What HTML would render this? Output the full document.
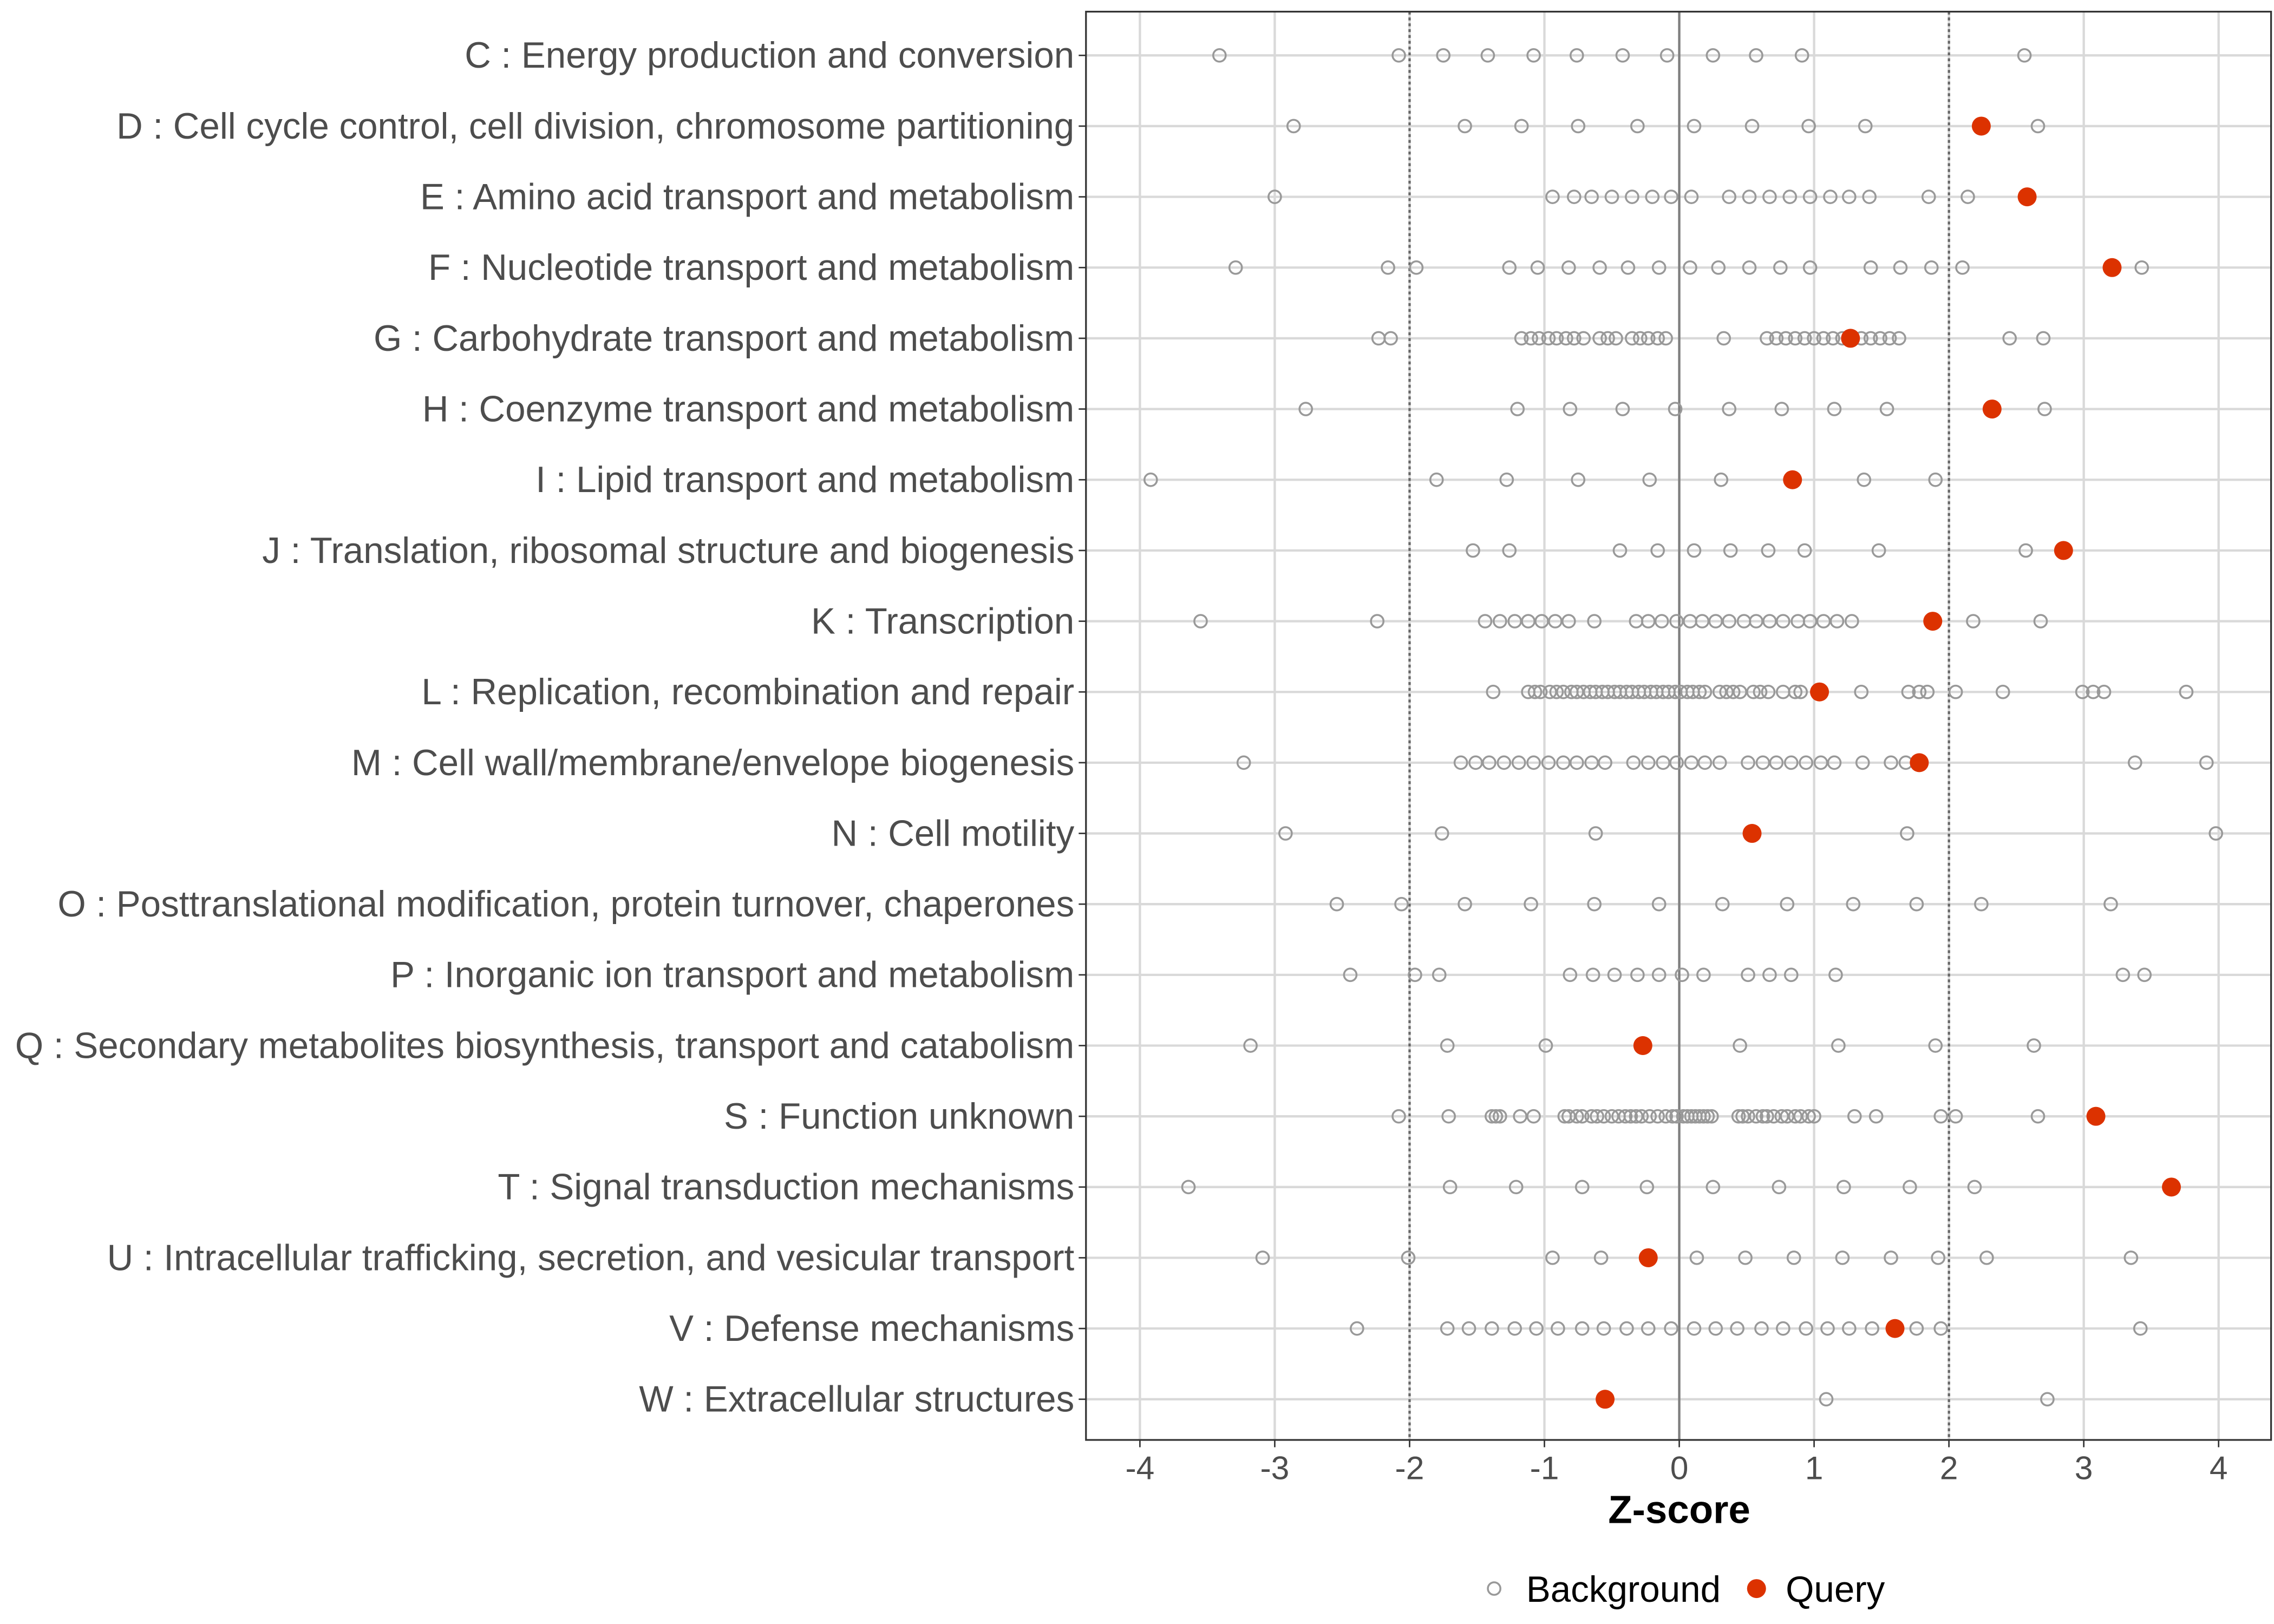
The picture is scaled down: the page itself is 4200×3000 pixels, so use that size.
<!DOCTYPE html>
<html><head><meta charset="utf-8"><style>
html,body{margin:0;padding:0;background:#fff}
svg{display:block}
text{font-family:"Liberation Sans",sans-serif}
</style></head><body>
<svg id="chart" width="4200" height="3000" viewBox="0 0 1560 1114.29" preserveAspectRatio="none" xmlns="http://www.w3.org/2000/svg">
<rect width="1560" height="1114.29" fill="#fff"/>
<g id="grid"></g><g id="pts"></g><g id="labels"></g>
</svg>
<script>
const categories = ["C : Energy production and conversion","D : Cell cycle control, cell division, chromosome partitioning","E : Amino acid transport and metabolism","F : Nucleotide transport and metabolism","G : Carbohydrate transport and metabolism","H : Coenzyme transport and metabolism","I : Lipid transport and metabolism","J : Translation, ribosomal structure and biogenesis","K : Transcription","L : Replication, recombination and repair","M : Cell wall/membrane/envelope biogenesis","N : Cell motility","O : Posttranslational modification, protein turnover, chaperones","P : Inorganic ion transport and metabolism","Q : Secondary metabolites biosynthesis, transport and catabolism","S : Function unknown","T : Signal transduction mechanisms","U : Intracellular trafficking, secretion, and vesicular transport","V : Defense mechanisms","W : Extracellular structures"];
const background = [
[-3.41,-2.08,-1.75,-1.42,-1.08,-0.76,-0.42,-0.09,0.25,0.57,0.91,2.56],
[-2.86,-1.59,-1.17,-0.75,-0.31,0.11,0.54,0.96,1.38,2.66],
[-3.0,-0.94,-0.78,-0.65,-0.5,-0.35,-0.2,-0.06,0.09,0.37,0.52,0.67,0.82,0.97,1.12,1.26,1.41,1.85,2.14],
[-3.29,-2.16,-1.95,-1.26,-1.05,-0.82,-0.59,-0.38,-0.15,0.08,0.29,0.52,0.75,0.97,1.42,1.64,1.87,2.1,3.43],
[-2.23,-2.14,-1.17,-1.1,-1.04,-0.97,-0.91,-0.84,-0.78,-0.71,-0.59,-0.53,-0.47,-0.35,-0.29,-0.23,-0.16,-0.1,0.33,0.65,0.72,0.79,0.86,0.93,1.0,1.07,1.14,1.21,1.28,1.35,1.42,1.49,1.56,1.63,2.45,2.7],
[-2.77,-1.2,-0.81,-0.42,-0.03,0.37,0.76,1.15,1.54,2.71],
[-3.92,-1.8,-1.28,-0.75,-0.22,0.31,1.37,1.9],
[-1.53,-1.26,-0.44,-0.16,0.11,0.38,0.66,0.93,1.48,2.57],
[-3.55,-2.24,-1.44,-1.33,-1.22,-1.12,-1.02,-0.92,-0.82,-0.63,-0.32,-0.23,-0.13,-0.02,0.08,0.17,0.27,0.37,0.48,0.57,0.67,0.77,0.88,0.97,1.07,1.17,1.28,2.18,2.68],
[-1.38,-1.12,-1.07,-1.03,-0.96,-0.91,-0.86,-0.8,-0.76,-0.71,-0.66,-0.62,-0.57,-0.53,-0.48,-0.44,-0.39,-0.35,-0.3,-0.26,-0.21,-0.17,-0.12,-0.08,-0.03,0.01,0.06,0.1,0.15,0.19,0.3,0.35,0.4,0.45,0.55,0.6,0.66,0.77,0.86,0.9,1.35,1.7,1.78,1.84,2.05,2.4,2.99,3.07,3.15,3.76],
[-3.23,-1.62,-1.51,-1.41,-1.3,-1.19,-1.08,-0.97,-0.86,-0.76,-0.65,-0.55,-0.34,-0.23,-0.12,-0.02,0.09,0.19,0.3,0.51,0.62,0.72,0.83,0.94,1.05,1.15,1.36,1.57,1.68,3.38,3.91],
[-2.92,-1.76,-0.62,1.69,3.98],
[-2.54,-2.06,-1.59,-1.1,-0.63,-0.15,0.32,0.8,1.29,1.76,2.24,3.2],
[-2.44,-1.96,-1.78,-0.81,-0.64,-0.48,-0.31,-0.15,0.02,0.18,0.51,0.67,0.83,1.16,3.29,3.45],
[-3.18,-1.72,-0.99,0.45,1.18,1.9,2.63],
[-2.08,-1.71,-1.39,-1.36,-1.33,-1.18,-1.08,-0.85,-0.82,-0.76,-0.72,-0.65,-0.61,-0.56,-0.5,-0.45,-0.4,-0.36,-0.32,-0.28,-0.22,-0.16,-0.1,-0.05,-0.02,0.03,0.06,0.09,0.12,0.15,0.18,0.21,0.24,0.44,0.47,0.51,0.57,0.62,0.65,0.7,0.76,0.8,0.86,0.9,0.96,1.0,1.3,1.46,1.94,2.05,2.66],
[-3.64,-1.7,-1.21,-0.72,-0.24,0.25,0.74,1.22,1.71,2.19],
[-3.09,-2.01,-0.94,-0.58,0.13,0.49,0.85,1.21,1.57,1.92,2.28,3.35],
[-2.39,-1.72,-1.56,-1.39,-1.22,-1.06,-0.9,-0.72,-0.56,-0.39,-0.23,-0.06,0.11,0.27,0.43,0.61,0.77,0.94,1.1,1.26,1.43,1.76,1.94,3.42],
[1.09,2.73]
];
const query = [null,2.24,2.58,3.21,1.27,2.32,0.84,2.85,1.88,1.04,1.78,0.54,null,null,-0.27,3.09,3.65,-0.23,1.6,-0.55];
const xTicks = [-4,-3,-2,-1,0,1,2,3,4];

const NS="http://www.w3.org/2000/svg";
const px0=745, px1=1558, py0=8, py1=988;
const xScale = v => 1152 + v*92.5;
const yScale = i => 38 + i*48.53;
function mk(tag, attrs, parent){const e=document.createElementNS(NS,tag);for(const k in attrs)e.setAttribute(k,attrs[k]);parent.appendChild(e);return e;}
const grid=document.getElementById('grid'), pts=document.getElementById('pts'), lab=document.getElementById('labels');
xTicks.forEach(t=>{
  const l=mk('line',{x1:xScale(t),x2:xScale(t),y1:py0,y2:py1,stroke:'#d9d9d9','stroke-width':1.6},grid);
  
  
  const tk=mk('line',{x1:xScale(t),x2:xScale(t),y1:py1,y2:py1+5,stroke:'#333','stroke-width':1},lab);
  
  
  const tx=mk('text',{x:xScale(t),y:1015,'text-anchor':'middle','font-size':22.5,fill:'#4d4d4d'},lab);
  tx.textContent=t;
  
  
});
categories.forEach((c,i)=>{
  const y=yScale(i);
  const l=mk('line',{x1:px0,x2:px1,y1:y,y2:y,stroke:'#d9d9d9','stroke-width':1.6},grid);
  
  
  const tk=mk('line',{x1:px0-5,x2:px0,y1:y,y2:y,stroke:'#333','stroke-width':1},lab);
  
  
  const tx=mk('text',{x:737,y:y+8.5,'text-anchor':'end','font-size':25,fill:'#4d4d4d'},lab);
  tx.textContent=c;
  
  
});
[-2,2].forEach(t=>{
  const l=mk('line',{x1:xScale(t),x2:xScale(t),y1:py0,y2:py1,stroke:'#666','stroke-width':1.6,'stroke-dasharray':'2,2'},grid);
  
  
});
const zl=mk('line',{x1:xScale(0),x2:xScale(0),y1:py0,y2:py1,stroke:'#7f7f7f','stroke-width':1.6},grid);


const border=mk('rect',{x:px0,y:py0,width:px1-px0,height:py1-py0,fill:'none',stroke:'#333','stroke-width':1.2},grid);


background.forEach((row,i)=>{
  row.forEach(v=>{
    const c=mk('circle',{cx:xScale(v),cy:yScale(i),r:4.3,fill:'none',stroke:'#999','stroke-width':1.3},pts);
    
    
  });
});
query.forEach((v,i)=>{
  if(v===null)return;
  const c=mk('circle',{cx:xScale(v),cy:yScale(i),r:6.5,fill:'#dc3200'},pts);
  
  
});
</script>
<svg style="position:absolute;left:0;top:0" width="4200" height="3000" viewBox="0 0 1560 1114.29" preserveAspectRatio="none" xmlns="http://www.w3.org/2000/svg">
<text x="1152" y="1045" text-anchor="middle" font-size="27" font-weight="bold" fill="#000">Z-score</text>
<g>
<circle cx="1025" cy="1090" r="4.3" fill="none" stroke="#999" stroke-width="1.3"/>
<text x="1047" y="1099" font-size="25" fill="#000">Background</text>
<circle cx="1205" cy="1090" r="6.5" fill="#dc3200"/>
<text x="1225" y="1099" font-size="25" fill="#000">Query</text>
</g>
</svg>
</body></html>
